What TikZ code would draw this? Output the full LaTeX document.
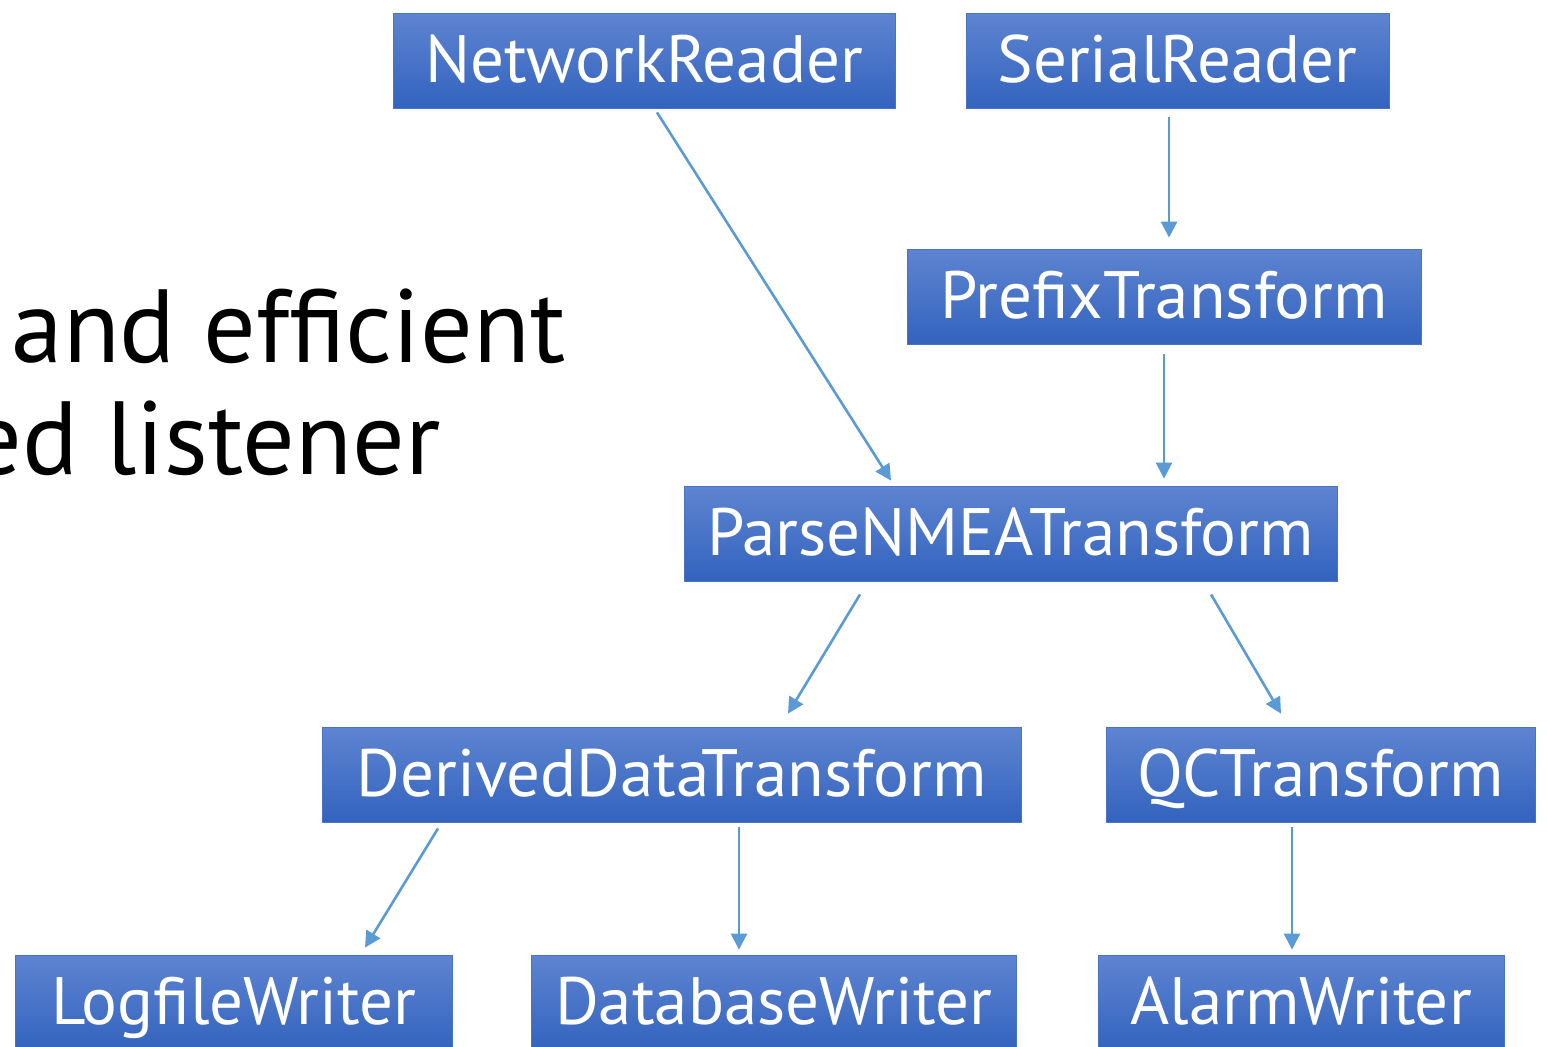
\documentclass[tikz,border=0pt]{standalone}
\usepackage{fontspec}
\setmainfont{PT Sans}
\usetikzlibrary{arrows.meta}

\definecolor{boxtop}{RGB}{94,132,209}
\definecolor{boxbottom}{RGB}{51,99,190}
\definecolor{boxedge}{RGB}{72,115,198}
\definecolor{flow}{RGB}{91,155,213}

\begin{document}
\begin{tikzpicture}[x=0.5pt, y=-0.5pt,
	stage/.style={rectangle, draw=boxedge, line width=0.4pt,
		top color=boxtop, bottom color=boxbottom,
		text=white, font=\fontsize{33.5}{40}\selectfont,
		minimum height=47.5pt, inner sep=0pt,
		text height=30pt, text depth=8.5pt},
	flowline/.style={draw=flow, line width=1.3pt,
		-{Triangle[length=8pt, width=8pt]}},
	slidetext/.style={font=\fontsize{52}{62}\selectfont, text=black, inner sep=0pt}]
{
	\useasboundingbox (0,0) rectangle (1547,1046);
	\clip (0,0) rectangle (1547,1046);

	% left over slide text
	\node[slidetext, anchor=base east] (LineOne) at (566,362) {and efficient};
	\node[slidetext, anchor=base east] (LineTwo) at (441,474) {ed listener};

	% readers
	\node[stage, minimum width=251pt] (NetworkReader) at (644,60.5) {NetworkReader};
	\node[stage, minimum width=211.5pt] (SerialReader) at (1177.5,60.5) {SerialReader};

	% transforms
	\node[stage, minimum width=257pt] (PrefixTransform) at (1164,296.5) {PrefixTransform};
	\node[stage, minimum width=326.5pt] (ParseNMEATransform) at (1010.5,533.5) {ParseNMEATransform};
	\node[stage, minimum width=349.5pt] (DerivedDataTransform) at (671.5,774.5) {DerivedDataTransform};
	\node[stage, minimum width=214.5pt] (QCTransform) at (1320.5,774.5) {QCTransform};

	% writers
	\node[stage, minimum width=218.5pt] (LogfileWriter) at (233.5,1002.5) {LogfileWriter};
	\node[stage, minimum width=242.5pt] (DatabaseWriter) at (773.5,1002.5) {DatabaseWriter};
	\node[stage, minimum width=203pt] (AlarmWriter) at (1301,1002.5) {AlarmWriter};

	% connections
	\draw[flowline] ([xshift=6.5pt, yshift=-2pt]NetworkReader.south)
		-- ([xshift=-59.75pt, yshift=2.5pt]ParseNMEATransform.north);
	\draw[flowline] ([xshift=-4.25pt, yshift=-4.5pt]SerialReader.south)
		-- ([xshift=2.5pt, yshift=5.5pt]PrefixTransform.north);
	\draw[flowline] ([yshift=-5pt]PrefixTransform.south)
		-- ([xshift=76.75pt, yshift=3.5pt]ParseNMEATransform.north);
	\draw[flowline] ([xshift=-75.25pt, yshift=-6.5pt]ParseNMEATransform.south)
		-- ([xshift=58.25pt, yshift=6.5pt]DerivedDataTransform.north);
	\draw[flowline] ([xshift=100.25pt, yshift=-6.5pt]ParseNMEATransform.south)
		-- ([xshift=-19.75pt, yshift=6.5pt]QCTransform.north);
	\draw[flowline] ([xshift=-116.75pt, yshift=-3pt]DerivedDataTransform.south)
		-- ([xshift=65.75pt, yshift=3.5pt]LogfileWriter.north);
	\draw[flowline] ([xshift=33.75pt, yshift=-2.5pt]DerivedDataTransform.south)
		-- ([xshift=-17.25pt, yshift=2.5pt]DatabaseWriter.north);
	\draw[flowline] ([xshift=-14.25pt, yshift=-2.5pt]QCTransform.south)
		-- ([xshift=-4.5pt, yshift=2.5pt]AlarmWriter.north);
}
\end{tikzpicture}
\end{document}
